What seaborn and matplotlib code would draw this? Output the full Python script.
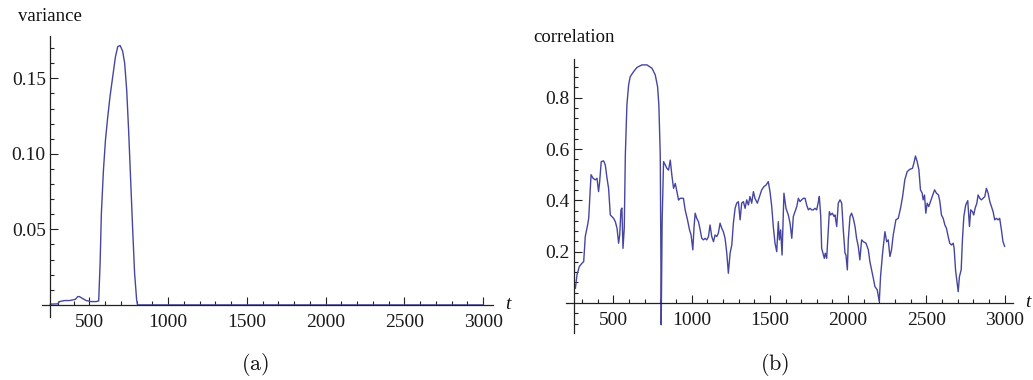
import matplotlib
matplotlib.use("Agg")
import matplotlib.pyplot as plt
import pandas as pd
import seaborn as sns

# ---- data -------------------------------------------------------------
var_t = [250, 299, 310, 341, 373, 394, 411, 426, 437, 454, 479, 511, 542, 559,
         568, 576, 589, 602, 616, 631, 648, 665, 680, 695, 711, 724, 737, 749,
         762, 775, 787, 800, 806, 820, 3000]
var_v = [0.0005, 0.0007, 0.0022, 0.0029, 0.0029, 0.0033, 0.0037, 0.0055, 0.0055,
         0.0044, 0.0029, 0.0022, 0.0022, 0.0026, 0.0275, 0.0605, 0.089, 0.109,
         0.124, 0.138, 0.151, 0.164, 0.171, 0.1717, 0.168, 0.160, 0.142, 0.1156,
         0.0826, 0.0495, 0.021, 0.0033, 0.0, 0.0, 0.0]

corr_t = [258, 268, 283, 300, 311, 321, 336, 343, 358, 371, 385, 396, 406, 413,
          423, 438, 449, 460, 470, 481, 502, 513, 524, 534, 541, 549, 555, 562,
          570, 577, 587, 598, 608, 630, 651, 683, 715, 747, 768, 783, 791, 800,
          804, 806, 812, 821, 832, 842, 853, 864, 874, 885, 896, 906, 917, 927,
          948, 959, 974, 987, 997, 1008, 1016, 1023, 1033, 1044, 1055, 1065,
          1076, 1086, 1097, 1108, 1118, 1129, 1140, 1150, 1161, 1171, 1182, 1193,
          1203, 1214, 1225, 1235, 1246, 1257, 1267, 1278, 1288, 1299, 1310, 1320,
          1331, 1342, 1352, 1363, 1373, 1384, 1395, 1405, 1420, 1437, 1448, 1463,
          1476, 1490, 1501, 1512, 1522, 1533, 1544, 1554, 1561, 1569, 1578, 1590,
          1603, 1618, 1629, 1640, 1650, 1661, 1672, 1682, 1693, 1703, 1714, 1725,
          1735, 1746, 1757, 1767, 1778, 1788, 1799, 1810, 1816, 1825, 1831, 1842,
          1848, 1854, 1863, 1873, 1880, 1888, 1899, 1910, 1916, 1927, 1937, 1948,
          1959, 1969, 1980, 1986, 1995, 2001, 2012, 2022, 2033, 2044, 2054, 2065,
          2075, 2086, 2097, 2114, 2129, 2139, 2150, 2161, 2171, 2186, 2199, 2207,
          2220, 2235, 2246, 2256, 2267, 2277, 2288, 2305, 2320, 2335, 2348, 2362,
          2377, 2394, 2411, 2420, 2430, 2441, 2452, 2462, 2473, 2479, 2488, 2496,
          2505, 2515, 2526, 2537, 2552, 2564, 2577, 2586, 2596, 2607, 2618, 2628,
          2639, 2649, 2660, 2671, 2677, 2686, 2696, 2703, 2711, 2722, 2730, 2739,
          2751, 2764, 2775, 2783, 2794, 2802, 2811, 2822, 2830, 2841, 2851, 2862,
          2873, 2883, 2894, 2905, 2915, 2926, 2936, 2947, 2958, 2968, 2979, 2989,
          3000]
corr_v = [0.057, 0.109, 0.142, 0.155, 0.161, 0.259, 0.304, 0.33, 0.50, 0.486,
          0.48, 0.486, 0.434, 0.473, 0.551, 0.554, 0.538, 0.486, 0.447, 0.343,
          0.33, 0.317, 0.291, 0.233, 0.265, 0.363, 0.37, 0.213, 0.29, 0.577,
          0.772, 0.85, 0.882, 0.902, 0.918, 0.928, 0.928, 0.915, 0.889, 0.843,
          0.772, 0.577, 0.187, -0.085, 0.317, 0.551, 0.538, 0.525, 0.518, 0.557,
          0.499, 0.447, 0.466, 0.434, 0.401, 0.408, 0.408, 0.363, 0.324, 0.285,
          0.265, 0.207, 0.298, 0.35, 0.33, 0.317, 0.285, 0.252, 0.246, 0.252,
          0.246, 0.259, 0.304, 0.259, 0.239, 0.265, 0.259, 0.272, 0.311, 0.291,
          0.278, 0.252, 0.194, 0.116, 0.194, 0.226, 0.311, 0.369, 0.389, 0.395,
          0.324, 0.389, 0.395, 0.369, 0.402, 0.382, 0.415, 0.389, 0.434, 0.408,
          0.389, 0.421, 0.441, 0.454, 0.46, 0.473, 0.434, 0.376, 0.298, 0.233,
          0.2, 0.317, 0.246, 0.285, 0.187, 0.428, 0.369, 0.343, 0.311, 0.252,
          0.337, 0.356, 0.376, 0.408, 0.395, 0.402, 0.408, 0.408, 0.382, 0.363,
          0.369, 0.363, 0.363, 0.369, 0.363, 0.395, 0.415, 0.337, 0.213, 0.187,
          0.174, 0.194, 0.174, 0.285, 0.356, 0.343, 0.35, 0.337, 0.343, 0.298,
          0.389, 0.402, 0.389, 0.285, 0.194, 0.187, 0.129, 0.246, 0.337, 0.35,
          0.33, 0.298, 0.252, 0.22, 0.168, 0.246, 0.239, 0.233, 0.207, 0.161,
          0.129, 0.096, 0.064, 0.051, 0.005, 0.103, 0.194, 0.278, 0.239, 0.246,
          0.181, 0.207, 0.265, 0.324, 0.33, 0.37, 0.415, 0.48, 0.512, 0.521,
          0.525, 0.545, 0.573, 0.551, 0.519, 0.441, 0.428, 0.402, 0.421, 0.35,
          0.389, 0.376, 0.395, 0.415, 0.441, 0.428, 0.421, 0.395, 0.343, 0.33,
          0.304, 0.291, 0.259, 0.233, 0.226, 0.233, 0.213, 0.129, 0.077, 0.044,
          0.103, 0.129, 0.246, 0.337, 0.382, 0.399, 0.298, 0.363, 0.356, 0.343,
          0.369, 0.389, 0.421, 0.408, 0.402, 0.408, 0.415, 0.447, 0.428, 0.395,
          0.376, 0.356, 0.324, 0.33, 0.324, 0.33, 0.285, 0.239, 0.22]

x_major = [500, 1000, 1500, 2000, 2500, 3000]
x_minor = [k * 100 for k in range(3, 31) if k % 5 != 0]
var_major = [0.05, 0.10, 0.15]
var_minor = [k * 0.01 for k in range(1, 18) if k % 5 != 0]
corr_major = [0.2, 0.4, 0.6, 0.8]
corr_minor = [k * 0.04 for k in range(-2, 24) if k % 5 != 0]

# ---- style ------------------------------------------------------------
sns.set_theme(style="white")
plt.rcParams['font.family'] = ['Liberation Serif', 'DejaVu Serif']
plt.rcParams['mathtext.fontset'] = 'cm'

LINE = '#4646a0'
AXC = '#222222'
W, H = 1033, 380

fig = plt.figure(figsize=(W / 100, H / 100), dpi=100)
fig.patch.set_facecolor('white')


def rect(x0, y0, x1, y1):
    return [x0 / W, 1 - y1 / H, (x1 - x0) / W, (y1 - y0) / H]


ax1 = fig.add_axes(rect(42, 36, 493, 317))
ax2 = fig.add_axes(rect(566, 59, 1013, 333))

df_var = pd.DataFrame({'t': var_t, 'variance': var_v})
df_corr = pd.DataFrame({'t': corr_t, 'correlation': corr_v})

sns.lineplot(data=df_var, x='t', y='variance', ax=ax1, color=LINE,
             linewidth=1.0, sort=False, estimator=None)
sns.lineplot(data=df_corr, x='t', y='correlation', ax=ax2, color=LINE,
             linewidth=1.0, sort=False, estimator=None)

ax1.set_xlim(199, 3063)
ax1.set_ylim(-0.008, 0.178)
ax2.set_xlim(198, 3053)
ax2.set_ylim(-0.117, 0.951)

setups = [
    (ax1, var_major, var_minor, '{:.2f}', 'variance', 14),
    (ax2, corr_major, corr_minor, '{:.1f}', 'correlation', 15.5),
]
for ax, ymaj, ymin, fmt, name, lab_off in setups:
    ax.set_facecolor('none')
    ax.grid(False)
    for s in ('top', 'right'):
        ax.spines[s].set_visible(False)
    ax.spines['left'].set_position(('data', 250))
    ax.spines['bottom'].set_position(('data', 0))
    for s in ('left', 'bottom'):
        ax.spines[s].set_color(AXC)
        ax.spines[s].set_linewidth(0.9)
    ax.set_xticks(x_major)
    ax.set_xticks(x_minor, minor=True)
    ax.set_yticks(ymaj)
    ax.set_yticks(ymin, minor=True)
    ax.set_xticklabels([str(v) for v in x_major])
    ax.set_yticklabels([fmt.format(v) for v in ymaj])
    ax.tick_params(which='both', direction='in', color=AXC, width=0.8,
                   bottom=True, left=True, top=False, right=False,
                   labelsize=14, labelcolor='#1a1a1a')
    ax.tick_params(which='major', length=5.5)
    ax.tick_params(which='minor', length=3)
    ax.tick_params(axis='x', which='major', pad=6.5)
    ax.tick_params(axis='y', which='major', pad=3)
    ax.set_xlabel('')
    ax.set_ylabel('')
    ax.annotate(name, xy=(250, 1), xycoords=('data', 'axes fraction'),
                xytext=(0, lab_off), textcoords='offset points',
                ha='center', va='center', fontsize=13.5, color='#111111')
    ax.annotate('t', xy=(1, 0), xycoords=('axes fraction', 'data'),
                xytext=(9, 0), textcoords='offset points',
                ha='left', va='center', fontsize=14, style='italic',
                color='#111111')

fig.text(255 / W, 1 - 365 / H, r'$\mathrm{(a)}$', ha='center', va='center',
         fontsize=16, color='#111111')
fig.text(775 / W, 1 - 365 / H, r'$\mathrm{(b)}$', ha='center', va='center',
         fontsize=16, color='#111111')

fig.savefig('out.png', dpi=100, facecolor='white')
